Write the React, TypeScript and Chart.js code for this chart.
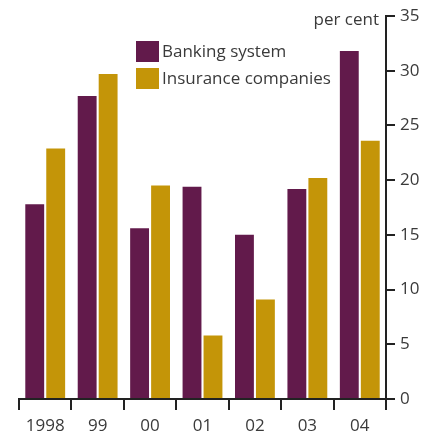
import React, { useEffect, useRef } from "react";
import { Chart, registerables } from "chart.js";

Chart.register(...registerables);

const categories = ["1998", "99", "00", "01", "02", "03", "04"];
const bankingSystem = [17.8, 27.7, 15.6, 19.4, 15.0, 19.2, 31.8];
const insuranceCompanies = [22.9, 29.7, 19.5, 5.8, 9.1, 20.2, 23.6];
const seriesLabels = ["Banking system", "Insurance companies"];
const yTicks = [0, 5, 10, 15, 20, 25, 30, 35];
const unitLabel = "per cent";

const FONT = "'Open Sans', 'DejaVu Sans', sans-serif";
const TEXT = "#3a3a3a";
const AXIS = "#222222";

const overlayPlugin = {
  id: "overlay",
  afterDraw(chart: any) {
    const ctx = chart.ctx;
    const area = chart.chartArea;
    ctx.save();
    ctx.font = `17px ${FONT}`;
    ctx.fillStyle = TEXT;
    ctx.textBaseline = "middle";
    ctx.textAlign = "right";
    ctx.fillText(unitLabel, area.right - 7, area.top + 4);
    // legend
    chart.data.datasets.forEach((ds: any, i: number) => {
      const x = 136;
      const y = 41 + i * 27;
      ctx.fillStyle = ds.backgroundColor;
      ctx.fillRect(x, y, 23, 21);
      ctx.fillStyle = TEXT;
      ctx.textAlign = "left";
      ctx.fillText(ds.label, x + 26, y + 11);
    });
    ctx.restore();
  },
};

export default function App() {
  const ref = useRef<HTMLCanvasElement | null>(null);
  useEffect(() => {
    document.body.style.margin = "0";
    const chart = new Chart(ref.current as HTMLCanvasElement, {
      type: "bar",
      data: {
        labels: categories,
        datasets: [
          { label: seriesLabels[0], data: bankingSystem, backgroundColor: "#621a4b" },
          { label: seriesLabels[1], data: insuranceCompanies, backgroundColor: "#c49508" },
        ],
      },
      options: {
        animation: false,
        responsive: false,
        maintainAspectRatio: false,
        layout: { padding: { top: 16, left: 19, right: 0, bottom: 0 } },
        datasets: { bar: { categoryPercentage: 0.8, barPercentage: 0.9 } } as any,
        plugins: { legend: { display: false }, tooltip: { enabled: false } },
        scales: {
          x: {
            grid: {
              offset: true,
              drawOnChartArea: false,
              drawTicks: true,
              tickLength: 11,
              color: AXIS,
              lineWidth: 2,
            },
            border: { display: true, color: AXIS, width: 2 },
            ticks: { color: TEXT, font: { family: FONT, size: 17 }, padding: 6 },
            afterFit(scale: any) {
              scale.height = 36;
            },
          },
          y: {
            position: "right",
            min: 0,
            max: 35,
            afterBuildTicks(scale: any) {
              scale.ticks = yTicks.map((v) => ({ value: v }));
            },
            grid: {
              drawOnChartArea: false,
              drawTicks: true,
              tickLength: 9,
              color: AXIS,
              lineWidth: 2,
            },
            border: { display: true, color: AXIS, width: 2 },
            ticks: { color: TEXT, font: { family: FONT, size: 17 }, padding: 5 },
            afterFit(scale: any) {
              scale.width = 46;
            },
          },
        },
      },
      plugins: [overlayPlugin],
    });
    return () => chart.destroy();
  }, []);
  return <canvas ref={ref} width={432} height={435} style={{ display: "block" }} />;
}
